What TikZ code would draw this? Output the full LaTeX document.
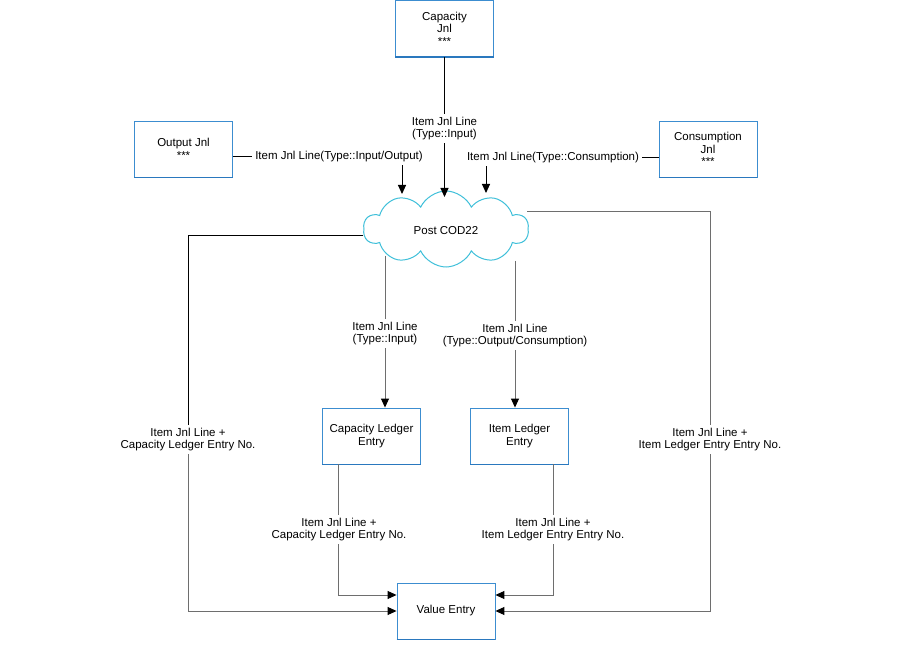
\documentclass[tikz,border=0pt]{standalone}
\usepackage{fontspec}
\setmainfont{Liberation Sans}
\usetikzlibrary{shapes.symbols,arrows.meta,calc}
\definecolor{boxblue}{HTML}{3C8DD0}
\definecolor{boxbot}{HTML}{2A78BE}
\definecolor{cloudc}{HTML}{3FC0DA}
\definecolor{lgray}{HTML}{6E6E6E}
\begin{document}
\begin{tikzpicture}[x=1pt,y=-1pt,
  every node/.style={font=\fontsize{11.5}{12.5}\selectfont},
  box/.style={draw=boxblue, line width=0.9pt, fill=white, minimum width=98pt, minimum height=56pt, inner sep=0pt, align=center},
  lbl/.style={align=center, inner sep=3pt},
  conn/.style={draw=lgray, line width=1pt},
  connk/.style={draw=black, line width=1pt},
  arr/.style={-{Triangle[length=9pt,width=8pt,color=black]}},
]
\useasboundingbox[fill=white] (0,0) rectangle (900,660);

% boxes
\node[box] (cap)  at (444.5,28.5) {Capacity\\Jnl\\***};
\node[box] (out)  at (183.5,149) {Output Jnl\\***};
\node[box] (cons) at (708,149) {Consumption\\Jnl\\***};
\node[box] (cle)  at (371.5,436) {Capacity Ledger\\Entry};
\node[box] (ile)  at (519.5,436) {Item Ledger\\Entry};
\node[box] (ve)   at (446,611) {Value Entry};
\foreach \n in {cap,out,cons,cle,ile,ve}
  \draw[boxbot,line width=1.8pt] (\n.south west) -- (\n.south east);

% cloud
\node[cloud, cloud puffs=10, cloud puff arc=130, aspect=2.3, draw=cloudc, line width=1pt, fill=white,
      minimum width=165pt, minimum height=76pt, inner sep=0pt] (cloud) at (446,229) {};
\node (cloudtxt) at (446,230.5) {Post COD22};

% labels
\node[lbl] (lCapIn) at (444.5,128.5) {Item Jnl Line\\(Type::Input)};
\node[lbl] (lOut)   at (339,156.5) {Item Jnl Line(Type::Input/Output)};
\node[lbl] (lCons)  at (553,157.5) {Item Jnl Line(Type::Consumption)};
\node[lbl] (lDnL)   at (385,333.5) {Item Jnl Line\\(Type::Input)};
\node[lbl] (lDnR)   at (515,335.5) {Item Jnl Line\\(Type::Output/Consumption)};
\node[lbl] (lLeft)  at (188,439.5) {Item Jnl Line +\\Capacity Ledger Entry No.};
\node[lbl] (lRight) at (710,439.5) {Item Jnl Line +\\Item Ledger Entry Entry No.};
\node[lbl] (lCv)    at (339,529.5) {Item Jnl Line +\\Capacity Ledger Entry No.};
\node[lbl] (lIv)    at (553,529.5) {Item Jnl Line +\\Item Ledger Entry Entry No.};

% attachment coordinates
\coordinate (inOut)  at (402,194);
\coordinate (inCap)  at (444.5,197);
\coordinate (inCons) at (486,193);
\coordinate (cLeft)  at (363,236);
\coordinate (cRight) at (527,212);
\coordinate (cDnL)   at (385,256);
\coordinate (cDnR)   at (515,261);
\coordinate (cleB)   at ($(cle.south)+(-33.5,0)$);
\coordinate (ileB)   at ($(ile.south)+(33.5,0)$);
\coordinate (veUL)   at ($(ve.west)+(0,-16)$);
\coordinate (veUR)   at ($(ve.east)+(0,-16)$);

% top inputs
\draw[connk] (cap.south) -- (lCapIn.north);
\draw[connk,arr] (lCapIn.south) -- (inCap);
\draw[connk] (out.east |- lOut.west) -- (lOut.west);
\draw[connk,arr] (lOut.south -| inOut) -- (inOut);
\draw[connk] (lCons.east) -- (cons.west |- lCons.east);
\draw[connk,arr] (lCons.south -| inCons) -- (inCons);

% cloud outputs
\draw[conn] (cDnL) -- (lDnL.north -| cDnL);
\draw[conn,arr] (lDnL.south -| cDnL) -- (cle.north -| cDnL);
\draw[conn] (cDnR) -- (lDnR.north -| cDnR);
\draw[conn,arr] (lDnR.south -| cDnR) -- (ile.north -| cDnR);

\draw[connk] (cLeft) -| (lLeft.north);
\draw[conn,arr] (lLeft.south) |- (ve.west);
\draw[conn] (cRight) -| (lRight.north);
\draw[conn,arr] (lRight.south) |- (ve.east);

% ledger entries to value entry
\draw[conn] (cleB) -- (lCv.north -| cleB);
\draw[conn,arr] (lCv.south -| cleB) |- (veUL);
\draw[conn] (ileB) -- (lIv.north -| ileB);
\draw[conn,arr] (lIv.south -| ileB) |- (veUR);
\end{tikzpicture}
\end{document}
